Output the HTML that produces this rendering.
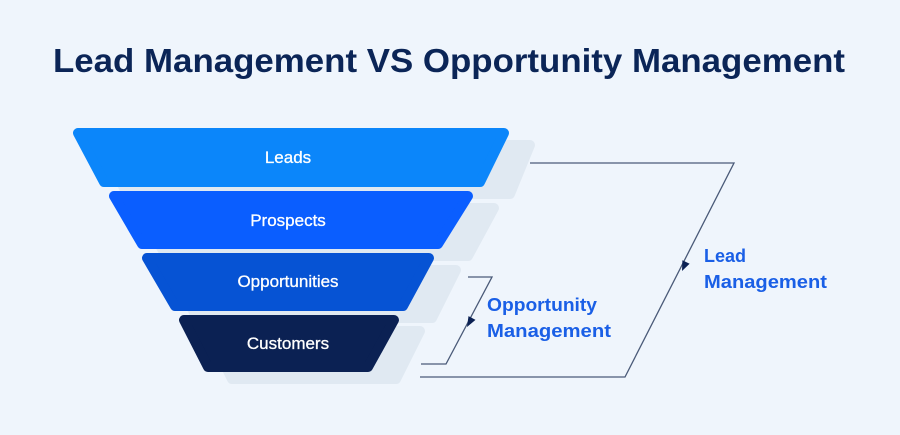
<!DOCTYPE html>
<html><head><meta charset="utf-8"><style>
html,body{margin:0;padding:0;background:#eff5fc;}
svg{display:block}
</style></head><body>
<svg width="900" height="435" viewBox="0 0 900 435" xmlns="http://www.w3.org/2000/svg">
<rect width="900" height="435" fill="#eff5fc"/>
<text x="449" y="72" text-anchor="middle" font-family="Liberation Sans, sans-serif" font-weight="bold" font-size="33" fill="#0b2557" textLength="792" lengthAdjust="spacingAndGlyphs">Lead Management VS Opportunity Management</text>
<g fill="#e0e9f2" stroke="#e0e9f2" stroke-width="10" stroke-linejoin="round">
<polygon points="102,145 530,145 510,194 127,194"/>
<polygon points="139,208 494,208 468,256 166,256"/>
<polygon points="171,270 456,270 432,318 197,318"/>
<polygon points="208,331 420,331 396,379 232,379"/>
</g>
<g stroke-width="10" stroke-linejoin="round">
<polygon points="78,133 504,133 480,182 104,182" fill="#0b86fa" stroke="#0b86fa"/>
<polygon points="114,196 468,196 438,244 142,244" fill="#0a5eff" stroke="#0a5eff"/>
<polygon points="147,258 429,258 403,306 175,306" fill="#0653d4" stroke="#0653d4"/>
<polygon points="184,320 394,320 368,367 208,367" fill="#0b2153" stroke="#0b2153"/>
</g>
<g font-family="Liberation Sans, sans-serif" font-size="17" fill="#fff" text-anchor="middle" stroke="#fff" stroke-width="0.3">
<text x="288" y="163">Leads</text>
<text x="288" y="226">Prospects</text>
<text x="288" y="287">Opportunities</text>
<text x="288" y="349">Customers</text>
</g>
<g stroke="#4a5a78" stroke-width="1.3" fill="none">
<polyline points="530,163 734,163 625,377 420,377"/>
<polyline points="468,277 492,277 446,364 421,364"/>
</g>
<polygon points="682,271 689.6,263.8 682.4,260.2" fill="#0b2153"/>
<polygon points="467,327 475.5,319.9 468.5,316.1" fill="#0b2153"/>
<g font-family="Liberation Sans, sans-serif" font-weight="bold" font-size="18" fill="#1a5fe6">
<text x="704" y="262">Lead</text>
<text x="704" y="288" textLength="123" lengthAdjust="spacingAndGlyphs">Management</text>
<text x="487" y="311" textLength="110" lengthAdjust="spacingAndGlyphs">Opportunity</text>
<text x="487" y="337" textLength="124" lengthAdjust="spacingAndGlyphs">Management</text>
</g>
</svg>
</body></html>
